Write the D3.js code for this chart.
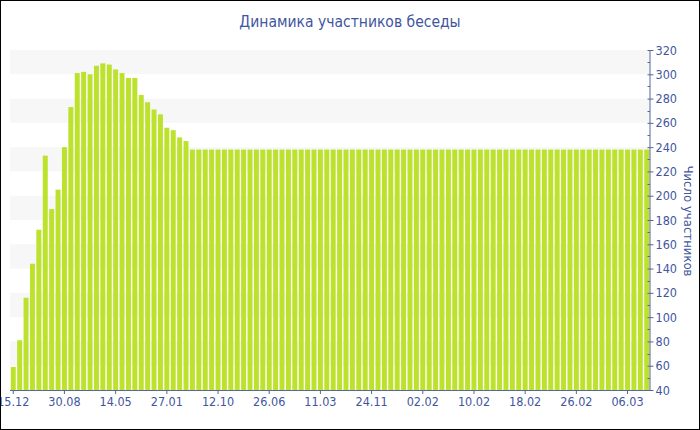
<!DOCTYPE html>
<html><head><meta charset="utf-8">
<script src="https://cdn.jsdelivr.net/npm/d3@7/dist/d3.min.js"></script>
<style>
html,body{margin:0;padding:0;background:#fff;}
svg{display:block;}
text{font-family:"DejaVu Sans Condensed","DejaVu Sans",sans-serif;}
</style></head>
<body>
<svg id="chart" width="700" height="430"></svg>
<script>
const title = "Динамика участников беседы";
const yTitle = "Число участников";
const values = [
  59, 81, 116, 144, 172, 233, 189, 205, 240, 273, 301, 302,
  300, 307, 309, 308, 304, 301, 297, 297, 283, 277, 271, 267,
  256, 254, 248, 245,
  238, 238, 238, 238, 238, 238, 238, 238, 238, 238, 238, 238,
  238, 238, 238, 238, 238, 238, 238, 238, 238, 238, 238, 238,
  238, 238, 238, 238, 238, 238, 238, 238, 238, 238, 238, 238,
  238, 238, 238, 238, 238, 238, 238, 238, 238, 238, 238, 238,
  238, 238, 238, 238, 238, 238, 238, 238, 238, 238, 238, 238,
  238, 238, 238, 238, 238, 238, 238, 238, 238, 238, 238, 238
];
const tickLabels = ["15.12","30.08","14.05","27.01","12.10","26.06","11.03","24.11","02.02","10.02","18.02","26.02","06.03"];
const tickEvery = 8;
const yMin = 40, yMax = 320, yStep = 20;

const textColor = "#3f56a0";
const axisColor = "#5566a0";
const barColor = "#bde22d";
const bandColor = "#f7f7f7";

const svg = d3.select("#chart");
const W = 700, H = 430;
const m = {left: 10, right: 650, top: 50, bottom: 390};

const idx = values.map((d, i) => i);
const x = d3.scaleBand().domain(idx).range([m.left, m.right]).paddingInner(0.22).paddingOuter(0.12);
const y = d3.scaleLinear().domain([yMin, yMax]).range([m.bottom, m.top]);

// alternating bands
const bandStarts = d3.range(yMin + yStep, yMax, yStep * 2);
svg.append("g").selectAll("rect").data(bandStarts).join("rect")
  .attr("x", m.left).attr("width", m.right - m.left)
  .attr("y", d => y(d + yStep)).attr("height", d => y(d) - y(d + yStep))
  .attr("fill", bandColor);

// bars
svg.append("g").selectAll("rect").data(values).join("rect")
  .attr("x", (d, i) => x(i)).attr("width", x.bandwidth())
  .attr("y", d => y(d)).attr("height", d => y(yMin) - y(d))
  .attr("fill", barColor);

// x axis
const tickIdx = tickLabels.map((t, k) => k * tickEvery);
const xAxis = d3.axisBottom(x).tickValues(tickIdx)
  .tickFormat(i => tickLabels[i / tickEvery]).tickSize(4).tickPadding(3);
const gx = svg.append("g").attr("transform", `translate(0,${m.bottom})`).call(xAxis);
gx.select(".domain").attr("d", `M${m.left},0.5H${m.right}`).attr("stroke", axisColor);
gx.selectAll(".tick line").attr("stroke", axisColor);
gx.selectAll(".tick text").attr("fill", textColor).style("font-size", "12.5px")
  .style("font-family", '"DejaVu Sans Condensed","DejaVu Sans",sans-serif');

// y axis on the right
const yAxis = d3.axisRight(y).ticks((yMax - yMin) / yStep).tickSize(4).tickPadding(2);
const gy = svg.append("g").attr("transform", `translate(${m.right - 0.5},0)`).call(yAxis);
gy.select(".domain").attr("d", `M0.5,${m.bottom}V${m.top}`).attr("stroke", axisColor);
gy.selectAll(".tick line").attr("stroke", axisColor).attr("x1", -2);
gy.selectAll(".tick text").attr("fill", textColor).style("font-size", "12.5px")
  .style("font-family", '"DejaVu Sans Condensed","DejaVu Sans",sans-serif');
// minor ticks
const minor = d3.range(yMin + yStep / 2, yMax, yStep);
gy.append("g").selectAll("line").data(minor).join("line")
  .attr("x1", -2).attr("x2", 0.5)
  .attr("y1", d => Math.round(y(d)) + 0.5).attr("y2", d => Math.round(y(d)) + 0.5)
  .attr("stroke", axisColor);

// y title
svg.append("text")
  .attr("transform", `translate(684,221) rotate(90)`)
  .attr("text-anchor", "middle")
  .attr("fill", textColor).style("font-size", "13px")
  .text(yTitle);

// title
svg.append("text")
  .attr("x", 350).attr("y", 27).attr("text-anchor", "middle")
  .attr("fill", textColor).style("font-size", "15.5px")
  .text(title);

// border
svg.append("rect").attr("x", 0.5).attr("y", 0.5).attr("width", W - 1).attr("height", H - 1)
  .attr("fill", "none").attr("stroke", "#000");
</script>
</body></html>
